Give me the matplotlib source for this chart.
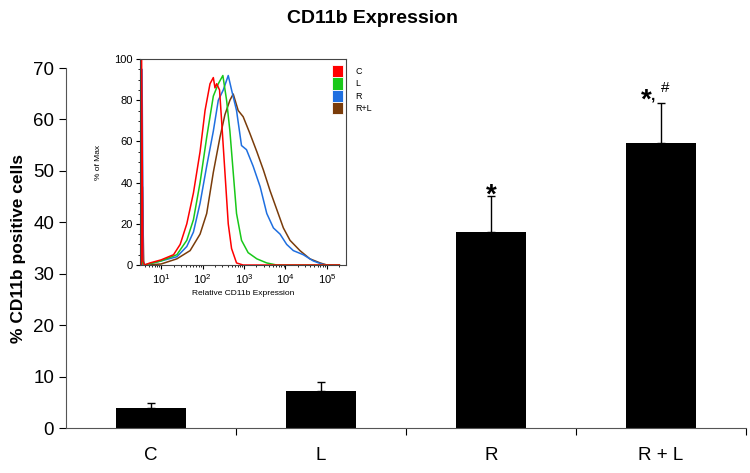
"""
CD11b expression bar chart with flow cytometry histogram inset
"""

import numpy as np
import matplotlib
matplotlib.use('Agg')
import matplotlib.pyplot as plt
from matplotlib.patches import Patch
from matplotlib.ticker import FixedLocator, LogLocator, NullFormatter

plt.rcParams['font.family'] = ['Liberation Sans', 'DejaVu Sans']

# Bar data
groups = ['C', 'L', 'R', 'R + L']
pct_pos = [3.9, 7.2, 38.2, 55.5]
err_up = [0.9, 1.8, 6.9, 7.7]

# Histogram inset data (log10 of expression, % of max)
c_logx = [0.52, 0.53, 0.56, 0.6, 0.73, 1.0, 1.3, 1.46, 1.62, 1.78, 1.94, 2.06,
          2.18, 2.26, 2.3, 2.34, 2.41, 2.46, 2.54, 2.62, 2.70, 2.82, 2.98, 5.3]
c_pct = [0, 100, 2, 0, 1, 2.5, 5, 10, 20, 35, 55, 75,
         88, 91, 86, 88, 85, 70, 45, 20, 8, 1, 0, 0]

l_logx = [0.52, 0.53, 0.56, 0.6, 1.0, 1.38, 1.62, 1.78, 1.94, 2.10, 2.26, 2.38,
          2.49, 2.58, 2.66, 2.74, 2.82, 2.94, 3.10, 3.31, 3.55, 3.79, 5.3]
l_pct = [0, 7, 1, 0, 2, 5, 12, 22, 40, 62, 82, 88,
         92, 80, 65, 45, 25, 12, 6, 3, 1, 0, 0]

r_logx = [0.53, 0.54, 0.57, 0.6, 1.0, 1.38, 1.62, 1.78, 1.94, 2.10, 2.26, 2.38,
          2.50, 2.62, 2.70, 2.82, 2.94, 3.06, 3.22, 3.39, 3.55, 3.71, 3.87,
          4.03, 4.19, 4.43, 4.67, 4.87, 5.0, 5.3]
r_pct = [0, 95, 2, 0, 2, 4, 9, 16, 30, 48, 65, 80,
         85, 92, 85, 75, 58, 56, 48, 38, 25, 18, 15,
         10, 7, 5, 2, 0.5, 0, 0]

rl_logx = [0.54, 0.55, 0.58, 0.62, 1.0, 1.38, 1.70, 1.94, 2.10, 2.26, 2.42, 2.54,
           2.66, 2.74, 2.86, 2.98, 3.14, 3.31, 3.47, 3.63, 3.79, 3.95, 4.11,
           4.35, 4.59, 4.84, 5.0, 5.3]
rl_pct = [0, 38, 1, 0, 0.5, 3, 7, 15, 25, 45, 62, 73,
          80, 83, 75, 72, 64, 55, 46, 36, 27, 18, 12,
          7, 3, 1, 0, 0]

hist_names = ['C', 'L', 'R', 'R+L']
hist_colors = ['#ff0000', '#19c819', '#1f6fe0', '#7a3c0a']

fig = plt.figure(figsize=(7.5, 4.73), dpi=100)

# Main bar chart
ax = fig.add_axes([0.088, 0.0951, 0.9067, 0.7611])
xpos = np.arange(len(groups)) + 0.5
ax.bar(xpos, pct_pos, width=0.41, color='black', zorder=2)
ax.errorbar(xpos, pct_pos, yerr=[np.zeros(len(err_up)), err_up], fmt='none',
            ecolor='black', elinewidth=1, capsize=3, capthick=1, zorder=1)

# significance marks
top_r = pct_pos[2] + err_up[2]
top_rl = pct_pos[3] + err_up[3]
ax.text(xpos[2], top_r - 1.3, '*', ha='center', va='baseline',
        fontsize=20, fontweight='bold')
ax.text(xpos[3] - 0.088, top_rl - 0.9, '*', ha='center', va='baseline',
        fontsize=20, fontweight='bold')
ax.text(xpos[3] - 0.045, top_rl + 0.6, ',', ha='center', va='baseline',
        fontsize=11, fontweight='bold')
ax.text(xpos[3] + 0.024, top_rl + 2.9, '#', ha='center', va='center',
        fontsize=11)

ax.set_xlim(0, 4)
ax.set_ylim(0, 70)
ax.set_yticks(np.arange(0, 71, 10))
ax.xaxis.set_major_locator(FixedLocator([1, 2, 3, 4]))
ax.xaxis.set_major_formatter(NullFormatter())
ax.xaxis.set_minor_locator(FixedLocator(xpos))
ax.set_xticklabels(groups, minor=True)
ax.tick_params(axis='x', which='major', length=5, direction='out')
ax.tick_params(axis='x', which='minor', length=0, pad=14, labelsize=13.5)
ax.tick_params(axis='y', length=5, direction='out', labelsize=13.5)
ax.spines['top'].set_visible(False)
ax.spines['right'].set_visible(False)
ax.spines['left'].set_color('#555555')
ax.spines['bottom'].set_color('#555555')
ax.set_ylabel('% CD11b positive cells', fontsize=12.5, fontweight='bold', labelpad=5)
fig.text(0.497, 0.96, 'CD11b Expression', ha='center', va='center',
         fontsize=14, fontweight='bold')

# Inset histogram
axi = fig.add_axes([0.1867, 0.4397, 0.2747, 0.4355])
series = [(c_logx, c_pct), (l_logx, l_pct), (r_logx, r_pct), (rl_logx, rl_pct)]
for i in [3, 2, 1, 0]:
    lx, pc = series[i]
    axi.plot(10 ** np.array(lx), pc, color=hist_colors[i], lw=1.1)
axi.set_xscale('log')
axi.set_xlim(3.1, 2.9e5)
axi.set_ylim(0, 100)
axi.set_yticks(np.arange(0, 101, 20))
axi.yaxis.set_minor_locator(FixedLocator(np.arange(0, 101, 5)))
axi.set_xticks([10, 100, 1e3, 1e4, 1e5])
axi.xaxis.set_minor_locator(LogLocator(base=10, subs=np.arange(2, 10)))
axi.xaxis.set_minor_formatter(NullFormatter())
axi.tick_params(axis='both', which='major', labelsize=8, length=3, pad=2)
axi.tick_params(axis='both', which='minor', length=1.5)
axi.set_ylabel('% of Max', fontsize=6, labelpad=9)
axi.set_xlabel('Relative CD11b Expression', fontsize=6, labelpad=3)
for s in axi.spines.values():
    s.set_linewidth(0.8)
    s.set_color('#444444')

handles = [Patch(facecolor=c, edgecolor='white', lw=0.6) for c in hist_colors]
axi.legend(handles, hist_names, loc='upper left', bbox_to_anchor=(0.93, 0.97),
           frameon=False, fontsize=6.5, handlelength=1.25, handleheight=1.7,
           labelspacing=0.0, handletextpad=1.4, borderpad=0, borderaxespad=0)

fig.savefig('out.png', dpi=100)
